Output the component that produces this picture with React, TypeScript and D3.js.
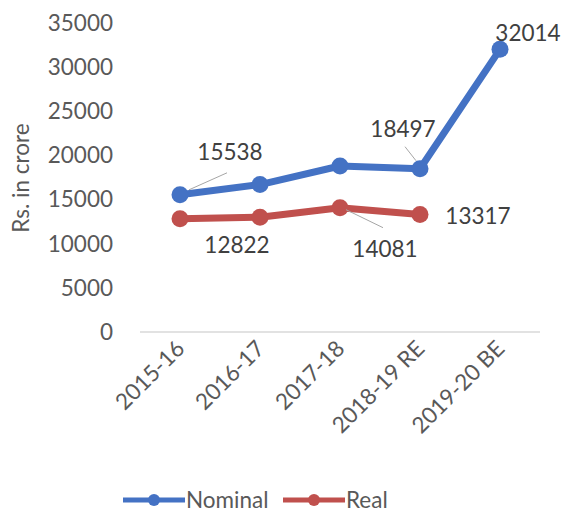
import React, { useEffect, useRef } from 'react';
import * as d3 from 'd3';

const categories = ['2015-16', '2016-17', '2017-18', '2018-19 RE', '2019-20 BE'];
const nominalValues = [15538, 16700, 18800, 18497, 32014];
const realValues = [12822, 13000, 14081, 13317];
const yTicks = [0, 5000, 10000, 15000, 20000, 25000, 30000, 35000];

const FONT = 'Lato, "Open Sans", sans-serif';
const FS = '22.5px';

const App: React.FC = () => {
  const svgRef = useRef<SVGSVGElement | null>(null);

  useEffect(() => {
    if (!svgRef.current) return;
    const width = 566;
    const height = 516;
    const svg = d3.select(svgRef.current).attr('width', width).attr('height', height);
    svg.selectAll('*').remove();

    const x = d3.scaleBand<string>().domain(categories).range([140, 540]);
    const y = d3.scaleLinear().domain([0, 35000]).range([332, 23]);
    const cx = (c: string) => (x(c) ?? 0) + x.bandwidth() / 2;

    // y tick labels
    svg.append('g')
      .selectAll('text')
      .data(yTicks)
      .enter().append('text')
      .attr('x', 113)
      .attr('y', d => y(d))
      .attr('dy', '0.35em')
      .attr('text-anchor', 'end')
      .style('font-family', FONT)
      .style('font-size', FS)
      .style('fill', '#595959')
      .text(d => d);

    // baseline
    svg.append('line')
      .attr('x1', 140).attr('x2', 540)
      .attr('y1', y(0)).attr('y2', y(0))
      .attr('stroke', '#d9d9d9')
      .attr('stroke-width', 1.5);

    // y title
    svg.append('text')
      .attr('transform', `translate(29,178) rotate(-90)`)
      .attr('text-anchor', 'middle')
      .style('font-family', FONT)
      .style('font-size', FS)
      .style('fill', '#595959')
      .text('Rs. in crore');

    // x labels
    svg.append('g')
      .selectAll('text')
      .data(categories)
      .enter().append('text')
      .attr('transform', d => `translate(${cx(d) + 6},${y(0) + 18}) rotate(-45)`)
      .attr('text-anchor', 'end')
      .style('font-family', FONT)
      .style('font-size', FS)
      .style('fill', '#595959')
      .text(d => d);

    const series = [
      { name: 'Nominal', values: nominalValues, color: '#4472C4' },
      { name: 'Real', values: realValues, color: '#C0504D' },
    ];

    const line = d3.line<number>()
      .x((_, i) => cx(categories[i]))
      .y(d => y(d));

    series.forEach(s => {
      svg.append('path')
        .datum(s.values)
        .attr('d', line)
        .attr('fill', 'none')
        .attr('stroke', s.color)
        .attr('stroke-width', 7)
        .attr('stroke-linejoin', 'round');
      svg.append('g')
        .selectAll('circle')
        .data(s.values)
        .enter().append('circle')
        .attr('cx', (_, i) => cx(categories[i]))
        .attr('cy', d => y(d))
        .attr('r', 8.5)
        .attr('fill', s.color);
    });

    // data labels: [series values, index, dx, dy, leader]
    const labels: [number[], number, number, number, [number, number, number, number] | null][] = [
      [nominalValues, 0, 50, -43, [9, -5, 47, -22]],
      [nominalValues, 3, -17, -40, [-15, -22, -4, -8]],
      [nominalValues, 4, 28, -16, null],
      [realValues, 0, 57, 26, null],
      [realValues, 2, 45, 41, [6, 2, 43, 20]],
      [realValues, 3, 58, 2, null],
    ];
    labels.forEach(([vals, i, dx, dy, leader]) => {
      const px = cx(categories[i]);
      const py = y(vals[i]);
      if (leader) {
        svg.append('line')
          .attr('x1', px + leader[0]).attr('y1', py + leader[1])
          .attr('x2', px + leader[2]).attr('y2', py + leader[3])
          .attr('stroke', '#a6a6a6')
          .attr('stroke-width', 1);
      }
      svg.append('text')
        .attr('x', px + dx)
        .attr('y', py + dy)
        .attr('dy', '0.35em')
        .attr('text-anchor', 'middle')
        .style('font-family', FONT)
        .style('font-size', FS)
        .style('fill', '#404040')
        .text(vals[i]);
    });

    // legend
    const legend = svg.append('g').attr('transform', 'translate(0,500)');
    const legendItems = [
      { name: 'Nominal', color: '#4472C4', x0: 123 },
      { name: 'Real', color: '#C0504D', x0: 283 },
    ];
    legendItems.forEach(it => {
      legend.append('line')
        .attr('x1', it.x0).attr('x2', it.x0 + 62)
        .attr('y1', 0).attr('y2', 0)
        .attr('stroke', it.color)
        .attr('stroke-width', 5);
      legend.append('circle')
        .attr('cx', it.x0 + 31).attr('cy', 0).attr('r', 6)
        .attr('fill', it.color);
      legend.append('text')
        .attr('x', it.x0 + 63)
        .attr('y', 0)
        .attr('dy', '0.35em')
        .style('font-family', FONT)
        .style('font-size', FS)
        .style('fill', '#595959')
        .text(it.name);
    });
  }, []);

  return (
    <svg ref={svgRef} style={{ position: 'absolute', left: 0, top: 0, background: '#fff' }}></svg>
  );
};

export default App;
